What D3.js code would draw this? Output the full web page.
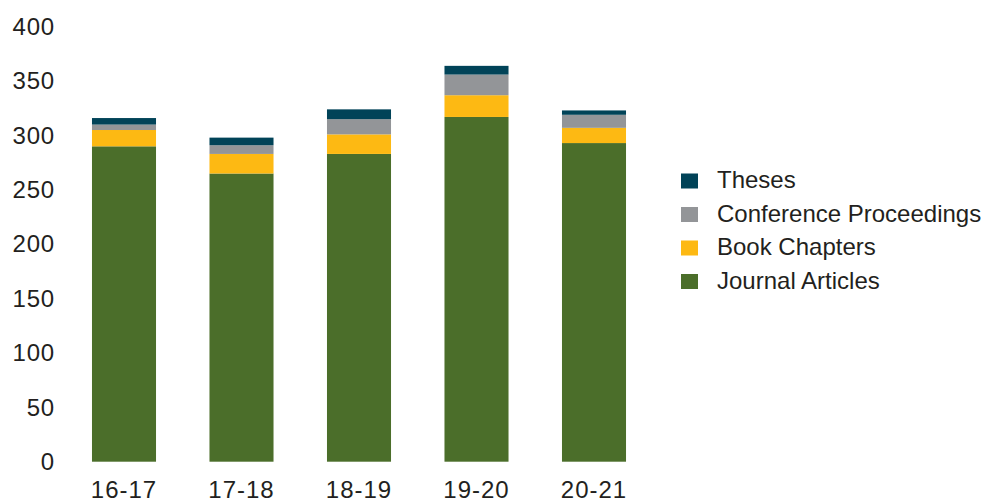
<!DOCTYPE html>
<html><head><meta charset="utf-8">
<script src="https://cdn.jsdelivr.net/npm/d3@7"></script>
<style>body{margin:0;background:#fff}svg{display:block;font-family:"Liberation Sans",Arial,Helvetica,sans-serif}</style>
</head><body><svg id="c" width="984" height="504"></svg>
<script>
const years = ["16-17","17-18","18-19","19-20","20-21"];
const journalArticles = [290, 265, 283, 317, 293];
const bookChapters = [15, 18, 18, 20, 14];
const conferenceProceedings = [5, 8, 14, 19, 12];
const theses = [6, 7, 9, 8, 4];
const yTicks = [0,50,100,150,200,250,300,350,400];
const seriesNames = ["Journal Articles","Book Chapters","Conference Proceedings","Theses"];
const seriesColors = ["#4b6e2a","#fdb913","#939598","#014358"];

const table = years.map((y,i)=>({year:y,"Journal Articles":journalArticles[i],"Book Chapters":bookChapters[i],"Conference Proceedings":conferenceProceedings[i],"Theses":theses[i]}));
const stack = d3.stack().keys(seriesNames)(table);

const svg = d3.select("#c");
const x = d3.scaleBand().domain(years).range([65.25,652.75]).paddingInner(0.455).paddingOuter(0.2275);
const y = d3.scaleLinear().domain([0,400]).range([461.7,26.7]);
const color = d3.scaleOrdinal().domain(seriesNames).range(seriesColors);

svg.append("g").selectAll("g").data(stack).join("g").attr("fill",d=>color(d.key))
  .selectAll("rect").data(d=>d).join("rect")
  .attr("x",d=>x(d.data.year)).attr("width",x.bandwidth())
  .attr("y",d=>y(d[1])).attr("height",d=>y(d[0])-y(d[1]));

const ya = svg.append("g").attr("transform","translate(55,0)")
  .call(d3.axisLeft(y).tickValues(yTicks).tickSize(0).tickPadding(0));
ya.select(".domain").remove();
ya.selectAll("text").attr("font-size",24).attr("fill","#231f20").attr("font-family","inherit").attr("letter-spacing","0.8px");

const xa = svg.append("g").attr("transform","translate(0,480)")
  .call(d3.axisBottom(x).tickSize(0).tickPadding(0));
xa.select(".domain").remove();
xa.selectAll("text").attr("font-size",24).attr("fill","#231f20").attr("font-family","inherit").attr("letter-spacing","1px").attr("dy","0.75em");

const legendOrder = ["Theses","Conference Proceedings","Book Chapters","Journal Articles"];
const lg = svg.append("g").selectAll("g").data(legendOrder).join("g")
  .attr("transform",(d,i)=>`translate(681,${180.5+i*33.5})`);
lg.append("rect").attr("x",0).attr("y",-7).attr("width",17).attr("height",15).attr("fill",d=>color(d));
lg.append("text").attr("x",36).attr("y",0).attr("dy","0.33em").attr("font-size",24).attr("fill","#231f20").text(d=>d);
</script></body></html>
